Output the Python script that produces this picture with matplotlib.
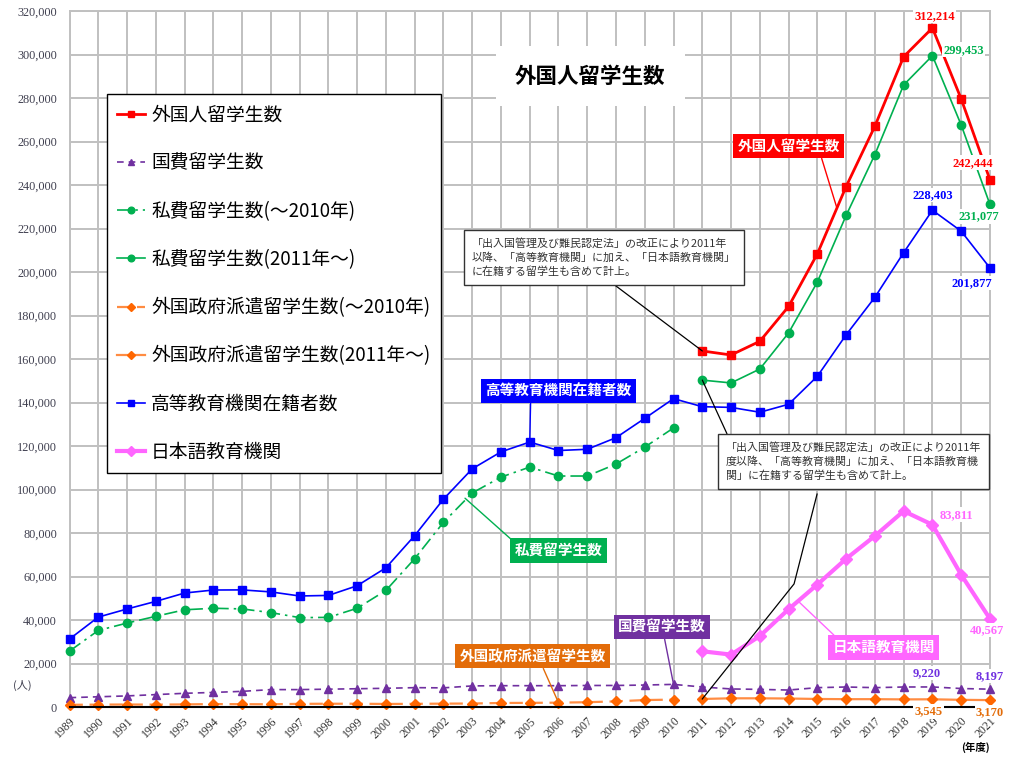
import matplotlib
matplotlib.use('Agg')
import matplotlib.pyplot as plt

plt.rcParams['font.family'] = ['Noto Sans CJK JP', 'DejaVu Sans']

years_old = list(range(1989, 2011))
years_new = list(range(2011, 2022))
years_all = list(range(1989, 2022))

total_new = [163697, 161848, 168145, 184155, 208379, 239287, 267042, 298980, 312214, 279597, 242444]
kokuhi = [4300, 4700, 5100, 5700, 6300, 6700, 7200, 8000, 8000, 8200, 8400, 8600, 8900, 8800,
          9700, 9800, 9800, 9800, 9900, 9900, 10100, 10400,
          9200, 8300, 8100, 7800, 8900, 9200, 8900, 9200, 9220, 8500, 8197]
shihi_old = [25700, 35200, 38600, 41700, 44700, 45400, 45100, 43400, 41100, 41200, 45400, 53600,
             68200, 84900, 98400, 105700, 110300, 106200, 106200, 111700, 119500, 128300]
shihi_new = [150300, 149000, 155400, 172000, 195400, 226000, 254000, 286000, 299453, 267600, 231077]
haken_old = [1000, 1100, 1150, 1100, 1200, 1350, 1300, 1250, 1450, 1500, 1500, 1400, 1450, 1550,
             1600, 1850, 1900, 2000, 2200, 2600, 3200, 3400]
haken_new = [3700, 4000, 4000, 3900, 3700, 3600, 3600, 3500, 3545, 3300, 3170]
koto = [31251, 41347, 45066, 48561, 52405, 53787, 53847, 52921, 51047, 51298, 55755, 64011,
        78812, 95550, 109508, 117302, 121812, 117927, 118498, 123829, 132720, 141774,
        138075, 137756, 135519, 139185, 152062, 171122, 188384, 208901, 228403, 218783, 201877]
nihongo = [25622, 24092, 32626, 44970, 56317, 68165, 78658, 90079, 83811, 60814, 40567]

legend_labels = ['外国人留学生数', '国費留学生数', '私費留学生数(～2010年)', '私費留学生数(2011年～)',
                 '外国政府派遣留学生数(～2010年)', '外国政府派遣留学生数(2011年～)',
                 '高等教育機関在籍者数', '日本語教育機関']

RED, PURPLE, GREEN, ORANGE, BLUE, PINK = '#FF0000', '#7030A0', '#00B050', '#FF6600', '#0000FF', '#FF66FF'

fig = plt.figure(figsize=(10.12, 7.59), dpi=100)
ax = fig.add_axes([0.0687, 0.0685, 0.9095, 0.917])

l_total, = ax.plot(years_new, total_new, color=RED, lw=2, marker='s', ms=6, clip_on=False, zorder=5)
l_koku, = ax.plot(years_all, kokuhi, color=PURPLE, lw=1.2, ls=(0, (4, 3)), marker='^', ms=6, clip_on=False, zorder=4)
l_shi_o, = ax.plot(years_old, shihi_old, color=GREEN, lw=1.2, ls=(0, (8, 3, 1.5, 3)), marker='o', ms=6, clip_on=False, zorder=4)
l_shi_n, = ax.plot(years_new, shihi_new, color=GREEN, lw=1.2, marker='o', ms=6, clip_on=False, zorder=4)
l_hak_o, = ax.plot(years_old, haken_old, color='#FF8C42', lw=1.6, ls=(0, (6, 3)), marker='D', ms=5,
                   mfc=ORANGE, mec=ORANGE, clip_on=False, zorder=4)
l_hak_n, = ax.plot(years_new, haken_new, color='#FF8C42', lw=1.6, marker='D', ms=5,
                   mfc=ORANGE, mec=ORANGE, clip_on=False, zorder=4)
l_koto, = ax.plot(years_all, koto, color=BLUE, lw=1.2, marker='s', ms=6, clip_on=False, zorder=4)
l_nihon, = ax.plot(years_new, nihongo, color=PINK, lw=3, marker='D', ms=6, clip_on=False, zorder=4)

ax.set_xlim(1989, 2021)
ax.set_ylim(0, 320000)
ax.set_xticks(years_all)
ax.set_xticklabels([str(y) for y in years_all], rotation=45, ha='right', rotation_mode='anchor',
                   family='Liberation Serif', fontsize=8.5, color='#333333')
ax.set_yticks(range(0, 320001, 20000))
ax.set_yticklabels(['0' if v == 0 else f'{v:,}' for v in range(0, 320001, 20000)],
                   family='Liberation Serif', fontsize=8.8, color='#404050')
ax.tick_params(axis='both', length=0)
ax.tick_params(axis='y', pad=9)
ax.tick_params(axis='x', pad=6)
ax.grid(True, color='#C0C0C0', lw=1.4)
ax.set_axisbelow(True)
for s in ['left', 'top', 'right']:
    ax.spines[s].set_color('#C0C0C0')
    ax.spines[s].set_linewidth(1.4)
ax.spines['bottom'].set_color('black')
ax.spines['bottom'].set_linewidth(1.5)
ax.spines['bottom'].set_zorder(6)

# title
ax.text(2007.1, 290000, '外国人留学生数', ha='center', va='center', fontsize=15.5, fontweight='bold',
        bbox=dict(boxstyle='square,pad=0.9', fc='white', ec='none'), zorder=3)

# legend
fig.legend([l_total, l_koku, l_shi_o, l_shi_n, l_hak_o, l_hak_n, l_koto, l_nihon], legend_labels,
           loc='upper left', bbox_to_anchor=(107 / 1012, 1 - 94 / 759), bbox_transform=fig.transFigure,
           borderaxespad=0, fontsize=13.5, frameon=True, fancybox=False, framealpha=1, edgecolor='black',
           labelspacing=1.45, handlelength=1.5, handletextpad=0.3, borderpad=0.55, markerscale=0.8)

# colored series labels
def tag(text, color, xy, xytext, rel):
    ax.annotate(text, xy=xy, xytext=xytext, ha='center', va='center', color='white', fontsize=10.5,
                fontweight='bold', zorder=7,
                bbox=dict(boxstyle='square,pad=0.3', fc=color, ec='none'),
                arrowprops=dict(arrowstyle='-', color=color, lw=1, relpos=rel, shrinkA=0, shrinkB=0))

tag('外国人留学生数', RED, (2015.68, 229400), (2014.0, 257900), (0.81, 0))
tag('高等教育機関在籍者数', BLUE, (2005, koto[16]), (2006.0, 145300), (0.31, 0))
tag('私費留学生数', GREEN, (2002.75, 96000), (2006.0, 72000), (0, 1))
tag('国費留学生数', PURPLE, (2010, kokuhi[21]), (2009.6, 36800), (0.52, 0))
tag('外国政府派遣留学生数', '#E36C09', (2006, haken_old[17]), (2005.1, 23400), (0.56, 0))
tag('日本語教育機関', PINK, (2014.33, 48700), (2017.3, 27400), (0.06, 1))

# notes
note1 = '「出入国管理及び難民認定法」の改正により2011年\n以降、「高等教育機関」に加え、「日本語教育機関」\nに在籍する留学生も含めて計上。'
note2 = '「出入国管理及び難民認定法」の改正により2011年\n度以降、「高等教育機関」に加え、「日本語教育機\n関」に在籍する留学生も含めて計上。'
ax.annotate(note1, xy=(2011, total_new[0]), xytext=(2007.58, 206700), ha='center', va='center',
            multialignment='left', fontsize=7.9, color='#333333', linespacing=1.4, zorder=7,
            bbox=dict(boxstyle='square,pad=0.7', fc='white', ec='#333333', lw=1),
            arrowprops=dict(arrowstyle='-', color='black', lw=0.9, relpos=(0.5, 0), shrinkA=0, shrinkB=0))
ax.annotate(note2, xy=(2011, shihi_new[0]), xytext=(2016.25, 112900), ha='center', va='center',
            multialignment='left', fontsize=7.9, color='#333333', linespacing=1.4, zorder=7,
            bbox=dict(boxstyle='square,pad=0.7', fc='white', ec='#333333', lw=1),
            arrowprops=dict(arrowstyle='-', color='black', lw=0.9, relpos=(0.02, 1), shrinkA=0, shrinkB=0))
ax.plot([2011, 2014.19, 2014.99], [haken_new[0], 56600, 97900], color='black', lw=0.9, zorder=6)

# value labels
def val(text, x, y, dx, dy, color):
    ax.annotate(text, xy=(x, y), xytext=(dx, dy), textcoords='offset pixels', ha='center', va='center',
                color=color, fontsize=9, fontweight='bold', family='Liberation Serif', zorder=8,
                annotation_clip=False,
                bbox=dict(boxstyle='square,pad=0.1', fc='white', ec='none'))

val('312,214', 2019, total_new[8], 2, 12, RED)
val('299,453', 2019, shihi_new[8], 31, 6, GREEN)
val('242,444', 2021, total_new[10], -17, 17, RED)
val('228,403', 2019, koto[30], 0, 15, BLUE)
val('231,077', 2021, shihi_new[10], -11, -12, GREEN)
val('201,877', 2021, koto[32], -18, -15, BLUE)
val('83,811', 2019, nihongo[8], 24, 10, PINK)
val('40,567', 2021, nihongo[10], -3, -11, PINK)
val('9,220', 2019, kokuhi[30], -6, 14, '#7030E0')
val('8,197', 2021, kokuhi[32], 0, 13, '#7030E0')
val('3,545', 2019, haken_new[8], -4, -12, '#E36C09')
val('3,170', 2021, haken_new[10], 0, -12, '#E36C09')

fig.text(22 / 1012, 1 - 685 / 759, '(人)', fontsize=8, color='#404050', ha='center', va='center')
fig.text(975 / 1012, 1 - 747 / 759, '(年度)', fontsize=7.5, fontweight='bold', ha='center', va='center')

fig.savefig('out.png', dpi=100)
